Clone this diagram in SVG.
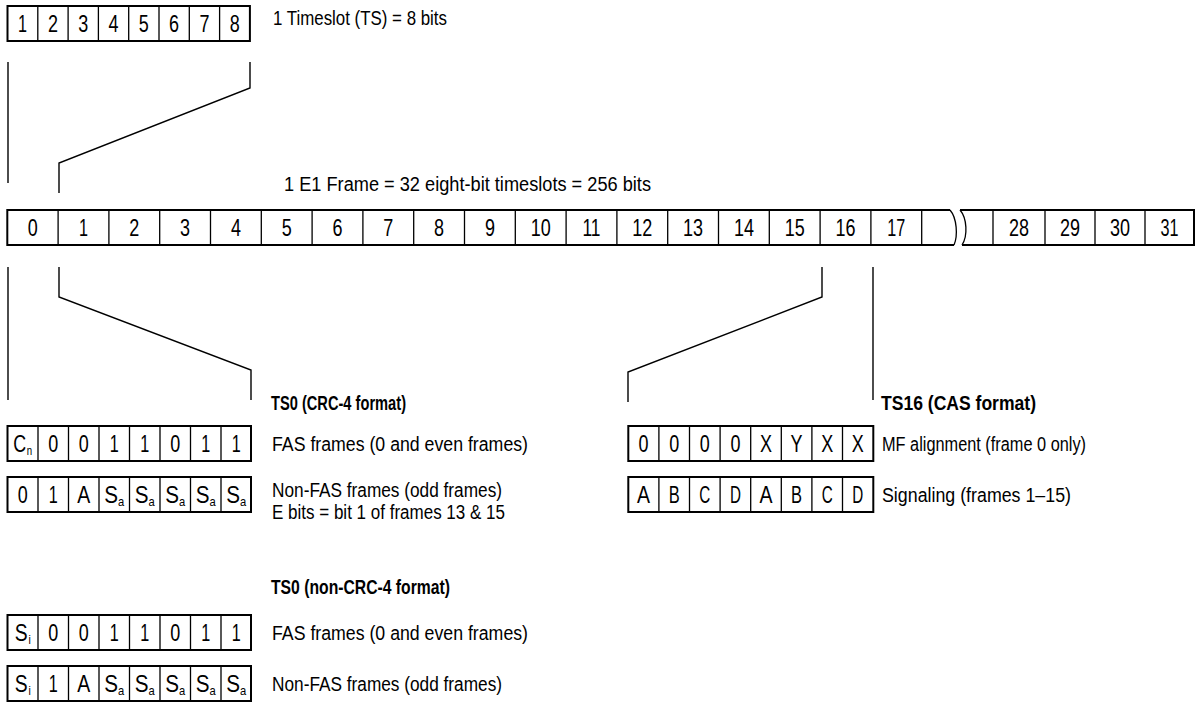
<svg xmlns="http://www.w3.org/2000/svg" width="1199" height="718" viewBox="0 0 1199 718">
<style>
.bg{fill:#fff}
.box{fill:none;stroke:#000;stroke-width:2}
.div{fill:none;stroke:#000;stroke-width:1.3}
.conn{fill:none;stroke:#000;stroke-width:1.4}
text{font-family:"Liberation Sans",Arial,sans-serif;fill:#000}
.lbl{font-size:20px}
.hd{font-size:20px;font-weight:bold}
.c{font-size:24px;text-anchor:middle}
.sub{font-size:13px}
</style>
<rect class="bg" x="0" y="0" width="1199" height="718"/>

<g id="timeslot">
  <rect class="box" x="7.5" y="6" width="242.4" height="35"/>
  <path class="div" d="M37.8,6V41M68.1,6V41M98.4,6V41M128.7,6V41M159,6V41M189.3,6V41M219.6,6V41"/>
  <text class="c" x="22.6" y="32" textLength="9" lengthAdjust="spacingAndGlyphs">1</text>
  <text class="c" x="52.9" y="32" textLength="10" lengthAdjust="spacingAndGlyphs">2</text>
  <text class="c" x="83.2" y="32" textLength="10" lengthAdjust="spacingAndGlyphs">3</text>
  <text class="c" x="113.5" y="32" textLength="10" lengthAdjust="spacingAndGlyphs">4</text>
  <text class="c" x="143.8" y="32" textLength="10" lengthAdjust="spacingAndGlyphs">5</text>
  <text class="c" x="174.1" y="32" textLength="10" lengthAdjust="spacingAndGlyphs">6</text>
  <text class="c" x="204.4" y="32" textLength="10" lengthAdjust="spacingAndGlyphs">7</text>
  <text class="c" x="234.7" y="32" textLength="10" lengthAdjust="spacingAndGlyphs">8</text>
  <text class="lbl" x="273" y="25" textLength="174" lengthAdjust="spacingAndGlyphs">1 Timeslot (TS) = 8 bits</text>
</g>

<g id="frame-label">
  <text class="lbl" x="284" y="191" textLength="367" lengthAdjust="spacingAndGlyphs">1 E1 Frame = 32 eight-bit timeslots = 256 bits</text>
</g>

<g id="e1-frame">
  <path class="box" d="M950,210H7.3V245H954"/>
  <path class="box" d="M960,210H1194V245H962"/>
  <path class="div" d="M950,210C957,218 958,236 954,245M960,210C967,218 968,236 962,245"/>
  <path class="div" d="M58.1,210V245M108.9,210V245M159.7,210V245M210.5,210V245M261.3,210V245M312.1,210V245M362.9,210V245M413.7,210V245M464.5,210V245M515.3,210V245M566.1,210V245M616.9,210V245M667.7,210V245M718.5,210V245M769.3,210V245M820.1,210V245M870.9,210V245M921.7,210V245M993,210V245M1045,210V245M1095,210V245M1145,210V245"/>
  <text class="c" x="32.7" y="236" textLength="10" lengthAdjust="spacingAndGlyphs">0</text>
  <text class="c" x="83.5" y="236" textLength="9" lengthAdjust="spacingAndGlyphs">1</text>
  <text class="c" x="134.3" y="236" textLength="10" lengthAdjust="spacingAndGlyphs">2</text>
  <text class="c" x="185.1" y="236" textLength="10" lengthAdjust="spacingAndGlyphs">3</text>
  <text class="c" x="235.9" y="236" textLength="10" lengthAdjust="spacingAndGlyphs">4</text>
  <text class="c" x="286.7" y="236" textLength="10" lengthAdjust="spacingAndGlyphs">5</text>
  <text class="c" x="337.5" y="236" textLength="10" lengthAdjust="spacingAndGlyphs">6</text>
  <text class="c" x="388.3" y="236" textLength="10" lengthAdjust="spacingAndGlyphs">7</text>
  <text class="c" x="439.1" y="236" textLength="10" lengthAdjust="spacingAndGlyphs">8</text>
  <text class="c" x="489.9" y="236" textLength="10" lengthAdjust="spacingAndGlyphs">9</text>
  <text class="c" x="540.7" y="236" textLength="20" lengthAdjust="spacingAndGlyphs">10</text>
  <text class="c" x="591.5" y="236" textLength="18" lengthAdjust="spacingAndGlyphs">11</text>
  <text class="c" x="642.3" y="236" textLength="20" lengthAdjust="spacingAndGlyphs">12</text>
  <text class="c" x="693.1" y="236" textLength="20" lengthAdjust="spacingAndGlyphs">13</text>
  <text class="c" x="743.9" y="236" textLength="20" lengthAdjust="spacingAndGlyphs">14</text>
  <text class="c" x="794.7" y="236" textLength="20" lengthAdjust="spacingAndGlyphs">15</text>
  <text class="c" x="845.5" y="236" textLength="20" lengthAdjust="spacingAndGlyphs">16</text>
  <text class="c" x="896.3" y="236" textLength="18" lengthAdjust="spacingAndGlyphs">17</text>
  <text class="c" x="1019" y="236" textLength="20" lengthAdjust="spacingAndGlyphs">28</text>
  <text class="c" x="1070" y="236" textLength="20" lengthAdjust="spacingAndGlyphs">29</text>
  <text class="c" x="1120" y="236" textLength="20" lengthAdjust="spacingAndGlyphs">30</text>
  <text class="c" x="1169.5" y="236" textLength="18" lengthAdjust="spacingAndGlyphs">31</text>
</g>

<g id="connectors">
  <path class="conn" d="M8,62V183"/>
  <path class="conn" d="M250,62V88L59,163V193"/>
  <path class="conn" d="M8,267V400"/>
  <path class="conn" d="M59,267V297L251,370V400"/>
  <path class="conn" d="M822,267V297L628,372V402"/>
  <path class="conn" d="M873,267V400"/>
</g>

<g id="ts0-crc4">
  <text class="hd" x="271" y="410" textLength="135" lengthAdjust="spacingAndGlyphs">TS0 (CRC-4 format)</text>
  <g id="ts0-crc4-fas">
    <rect class="box" x="7.5" y="426" width="243.5" height="35"/>
    <path class="div" d="M38,426V461M68.5,426V461M99,426V461M129.5,426V461M160,426V461M190.5,426V461M221,426V461"/>
    <text class="c" x="22.7" y="452" textLength="19" lengthAdjust="spacingAndGlyphs">C<tspan class="sub" dx="1" dy="3">n</tspan></text>
    <text class="c" x="53.2" y="452" textLength="10" lengthAdjust="spacingAndGlyphs">0</text>
    <text class="c" x="83.7" y="452" textLength="10" lengthAdjust="spacingAndGlyphs">0</text>
    <text class="c" x="114.2" y="452" textLength="9" lengthAdjust="spacingAndGlyphs">1</text>
    <text class="c" x="144.7" y="452" textLength="9" lengthAdjust="spacingAndGlyphs">1</text>
    <text class="c" x="175.2" y="452" textLength="10" lengthAdjust="spacingAndGlyphs">0</text>
    <text class="c" x="205.7" y="452" textLength="9" lengthAdjust="spacingAndGlyphs">1</text>
    <text class="c" x="236.2" y="452" textLength="9" lengthAdjust="spacingAndGlyphs">1</text>
    <text class="lbl" x="272" y="451" textLength="256" lengthAdjust="spacingAndGlyphs">FAS frames (0 and even frames)</text>
  </g>
  <g id="ts0-crc4-nfas">
    <rect class="box" x="7.5" y="477" width="243.5" height="35"/>
    <path class="div" d="M38,477V512M68.5,477V512M99,477V512M129.5,477V512M160,477V512M190.5,477V512M221,477V512"/>
    <text class="c" x="22.7" y="503" textLength="10" lengthAdjust="spacingAndGlyphs">0</text>
    <text class="c" x="53.2" y="503" textLength="9" lengthAdjust="spacingAndGlyphs">1</text>
    <text class="c" x="83.7" y="503" textLength="13" lengthAdjust="spacingAndGlyphs">A</text>
    <text class="c" x="114.2" y="503" textLength="20" lengthAdjust="spacingAndGlyphs">S<tspan class="sub" dy="3">a</tspan></text>
    <text class="c" x="144.7" y="503" textLength="20" lengthAdjust="spacingAndGlyphs">S<tspan class="sub" dy="3">a</tspan></text>
    <text class="c" x="175.2" y="503" textLength="20" lengthAdjust="spacingAndGlyphs">S<tspan class="sub" dy="3">a</tspan></text>
    <text class="c" x="205.7" y="503" textLength="20" lengthAdjust="spacingAndGlyphs">S<tspan class="sub" dy="3">a</tspan></text>
    <text class="c" x="236.2" y="503" textLength="20" lengthAdjust="spacingAndGlyphs">S<tspan class="sub" dy="3">a</tspan></text>
    <text class="lbl" x="272" y="497" textLength="230" lengthAdjust="spacingAndGlyphs">Non-FAS frames (odd frames)</text>
    <text class="lbl" x="272" y="519" textLength="233" lengthAdjust="spacingAndGlyphs">E bits = bit 1 of frames 13 &amp; 15</text>
  </g>
</g>

<g id="ts16-cas">
  <text class="hd" x="881" y="410" textLength="155" lengthAdjust="spacingAndGlyphs">TS16 (CAS format)</text>
  <g id="ts16-mf">
    <rect class="box" x="628.3" y="426" width="245" height="35"/>
    <path class="div" d="M658.9,426V461M689.5,426V461M720.1,426V461M750.7,426V461M781.3,426V461M811.9,426V461M842.5,426V461"/>
    <text class="c" x="643.6" y="452" textLength="10" lengthAdjust="spacingAndGlyphs">0</text>
    <text class="c" x="674.2" y="452" textLength="10" lengthAdjust="spacingAndGlyphs">0</text>
    <text class="c" x="704.8" y="452" textLength="10" lengthAdjust="spacingAndGlyphs">0</text>
    <text class="c" x="735.4" y="452" textLength="10" lengthAdjust="spacingAndGlyphs">0</text>
    <text class="c" x="766" y="452" textLength="12" lengthAdjust="spacingAndGlyphs">X</text>
    <text class="c" x="796.6" y="452" textLength="12" lengthAdjust="spacingAndGlyphs">Y</text>
    <text class="c" x="827.2" y="452" textLength="12" lengthAdjust="spacingAndGlyphs">X</text>
    <text class="c" x="857.8" y="452" textLength="12" lengthAdjust="spacingAndGlyphs">X</text>
    <text class="lbl" x="882" y="451" textLength="204" lengthAdjust="spacingAndGlyphs">MF alignment (frame 0 only)</text>
  </g>
  <g id="ts16-sig">
    <rect class="box" x="628.3" y="477" width="245" height="35"/>
    <path class="div" d="M658.9,477V512M689.5,477V512M720.1,477V512M750.7,477V512M781.3,477V512M811.9,477V512M842.5,477V512"/>
    <text class="c" x="643.6" y="503" textLength="13" lengthAdjust="spacingAndGlyphs">A</text>
    <text class="c" x="674.2" y="503" textLength="11" lengthAdjust="spacingAndGlyphs">B</text>
    <text class="c" x="704.8" y="503" textLength="11" lengthAdjust="spacingAndGlyphs">C</text>
    <text class="c" x="735.4" y="503" textLength="11" lengthAdjust="spacingAndGlyphs">D</text>
    <text class="c" x="766" y="503" textLength="13" lengthAdjust="spacingAndGlyphs">A</text>
    <text class="c" x="796.6" y="503" textLength="11" lengthAdjust="spacingAndGlyphs">B</text>
    <text class="c" x="827.2" y="503" textLength="11" lengthAdjust="spacingAndGlyphs">C</text>
    <text class="c" x="857.8" y="503" textLength="11" lengthAdjust="spacingAndGlyphs">D</text>
    <text class="lbl" x="882" y="502" textLength="189" lengthAdjust="spacingAndGlyphs">Signaling (frames 1–15)</text>
  </g>
</g>

<g id="ts0-noncrc4">
  <text class="hd" x="271" y="594" textLength="179" lengthAdjust="spacingAndGlyphs">TS0 (non-CRC-4 format)</text>
  <g id="ts0-noncrc4-fas">
    <rect class="box" x="7.5" y="615" width="243.5" height="35"/>
    <path class="div" d="M38,615V650M68.5,615V650M99,615V650M129.5,615V650M160,615V650M190.5,615V650M221,615V650"/>
    <text class="c" x="22.7" y="641" textLength="16" lengthAdjust="spacingAndGlyphs">S<tspan class="sub" dx="1" dy="3">i</tspan></text>
    <text class="c" x="53.2" y="641" textLength="10" lengthAdjust="spacingAndGlyphs">0</text>
    <text class="c" x="83.7" y="641" textLength="10" lengthAdjust="spacingAndGlyphs">0</text>
    <text class="c" x="114.2" y="641" textLength="9" lengthAdjust="spacingAndGlyphs">1</text>
    <text class="c" x="144.7" y="641" textLength="9" lengthAdjust="spacingAndGlyphs">1</text>
    <text class="c" x="175.2" y="641" textLength="10" lengthAdjust="spacingAndGlyphs">0</text>
    <text class="c" x="205.7" y="641" textLength="9" lengthAdjust="spacingAndGlyphs">1</text>
    <text class="c" x="236.2" y="641" textLength="9" lengthAdjust="spacingAndGlyphs">1</text>
    <text class="lbl" x="272" y="640" textLength="256" lengthAdjust="spacingAndGlyphs">FAS frames (0 and even frames)</text>
  </g>
  <g id="ts0-noncrc4-nfas">
    <rect class="box" x="7.5" y="666" width="243.5" height="35"/>
    <path class="div" d="M38,666V701M68.5,666V701M99,666V701M129.5,666V701M160,666V701M190.5,666V701M221,666V701"/>
    <text class="c" x="22.7" y="692" textLength="16" lengthAdjust="spacingAndGlyphs">S<tspan class="sub" dx="1" dy="3">i</tspan></text>
    <text class="c" x="53.2" y="692" textLength="9" lengthAdjust="spacingAndGlyphs">1</text>
    <text class="c" x="83.7" y="692" textLength="13" lengthAdjust="spacingAndGlyphs">A</text>
    <text class="c" x="114.2" y="692" textLength="20" lengthAdjust="spacingAndGlyphs">S<tspan class="sub" dy="3">a</tspan></text>
    <text class="c" x="144.7" y="692" textLength="20" lengthAdjust="spacingAndGlyphs">S<tspan class="sub" dy="3">a</tspan></text>
    <text class="c" x="175.2" y="692" textLength="20" lengthAdjust="spacingAndGlyphs">S<tspan class="sub" dy="3">a</tspan></text>
    <text class="c" x="205.7" y="692" textLength="20" lengthAdjust="spacingAndGlyphs">S<tspan class="sub" dy="3">a</tspan></text>
    <text class="c" x="236.2" y="692" textLength="20" lengthAdjust="spacingAndGlyphs">S<tspan class="sub" dy="3">a</tspan></text>
    <text class="lbl" x="272" y="691" textLength="230" lengthAdjust="spacingAndGlyphs">Non-FAS frames (odd frames)</text>
  </g>
</g>
</svg>
